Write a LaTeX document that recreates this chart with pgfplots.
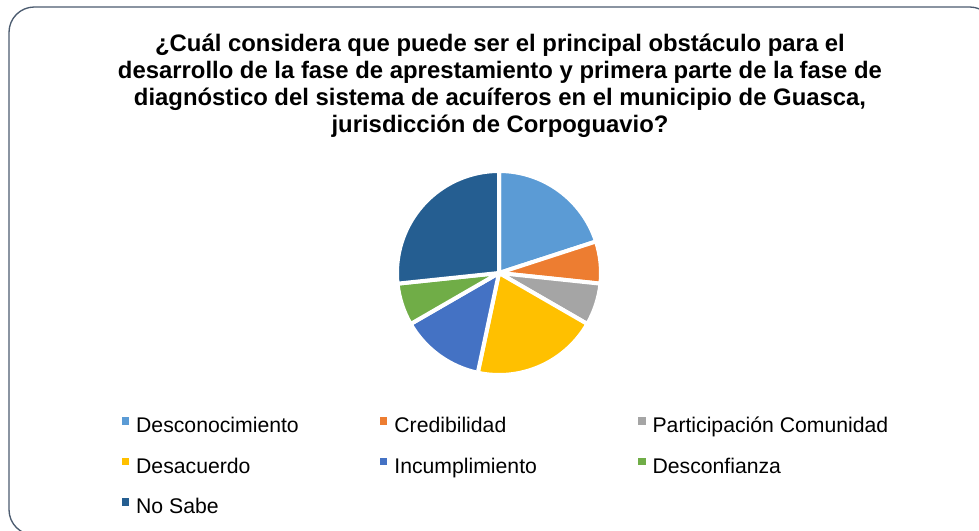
\documentclass[border=0pt]{standalone}
\usepackage{pgfplots}
\pgfplotsset{compat=1.18}
\usepackage{pgfplotstable}
\usepackage{fontspec}
\setmainfont{Liberation Sans}

\definecolor{c0}{HTML}{5B9BD5}
\definecolor{c1}{HTML}{ED7D31}
\definecolor{c2}{HTML}{A5A5A5}
\definecolor{c3}{HTML}{FFC000}
\definecolor{c4}{HTML}{4472C4}
\definecolor{c5}{HTML}{70AD47}
\definecolor{c6}{HTML}{255E91}
\definecolor{framecol}{HTML}{4B5B6F}

% respuestas por categoria (15 encuestados)
\pgfplotstableread{
count col
3 c0
1 c1
1 c2
3 c3
2 c4
1 c5
4 c6
}\piedata

% build the sectors from the table
\def\total{0}
\pgfplotsforeachungrouped \i in {0,...,6}{%
  \pgfplotstablegetelem{\i}{count}\of\piedata
  \pgfmathsetmacro\total{\total+\pgfplotsretval}%
}
\gdef\piecmds{}
\def\cum{0}
\pgfplotsforeachungrouped \i in {0,...,6}{%
  \pgfplotstablegetelem{\i}{count}\of\piedata \let\n\pgfplotsretval
  \pgfplotstablegetelem{\i}{col}\of\piedata \let\c\pgfplotsretval
  \pgfmathsetmacro\sa{90-\cum*360/\total}%
  \pgfmathsetmacro\ea{\sa-\n*360/\total}%
  \pgfmathsetmacro\cum{\cum+\n}%
  \xdef\piecmds{\unexpanded\expandafter{\piecmds}%
    \noexpand\filldraw[fill=\c,draw=white,line width=3pt,line join=round]
    (axis cs:499,258) -- ++(\sa:76.5pt) arc[start angle=\sa,end angle=\ea,radius=76.5pt] -- cycle;}%
}

\pgfplotsset{sq/.style={legend image code/.code={\fill[##1] (0pt,2.5pt) rectangle (5.4pt,7.9pt);}}}
\newcommand{\ent}[1]{\hspace{5.25pt}\makebox[183pt][l]{#1}}

\begin{document}
\begin{tikzpicture}
\useasboundingbox (0,0) rectangle (734.25pt,398.25pt);
\begin{axis}[
  at={(0,0)}, anchor=south west,
  width=734.25pt, height=398.25pt, scale only axis,
  xmin=0, xmax=979, ymin=0, ymax=531,
  axis lines=none, clip=false,
  legend columns=3,
  legend cell align=left,
  legend style={at={(0.1246,0.2141)}, anchor=north west, draw=none, fill=none,
    inner sep=0pt, outer sep=0pt, column sep=0pt, row sep=15pt,
    font=\fontsize{15.9}{18}\selectfont,
    nodes={inner sep=0pt, text height=11pt, text depth=4pt}},
]
\draw[framecol, line width=1pt, rounded corners=19pt] (axis cs:9,524) rectangle (axis cs:995,-4);
\node[align=center, font=\bfseries\fontsize{17.9}{20.25}\selectfont] at (axis cs:500,445.5)
  {¿Cuál considera que puede ser el principal obstáculo para el\\
   desarrollo de la fase de aprestamiento y primera parte de la fase de\\
   diagnóstico del sistema de acuíferos en el municipio de Guasca,\\
   jurisdicción de Corpoguavio?};
\piecmds
\addlegendimage{sq, fill=c0, draw=none}\addlegendentry{\ent{Desconocimiento}}
\addlegendimage{sq, fill=c1, draw=none}\addlegendentry{\ent{Credibilidad}}
\addlegendimage{sq, fill=c2, draw=none}\addlegendentry{\ent{Participación Comunidad}}
\addlegendimage{sq, fill=c3, draw=none}\addlegendentry{\ent{Desacuerdo}}
\addlegendimage{sq, fill=c4, draw=none}\addlegendentry{\ent{Incumplimiento}}
\addlegendimage{sq, fill=c5, draw=none}\addlegendentry{\ent{Desconfianza}}
\addlegendimage{sq, fill=c6, draw=none}\addlegendentry{\ent{No Sabe}}
\end{axis}
\end{tikzpicture}
\end{document}
